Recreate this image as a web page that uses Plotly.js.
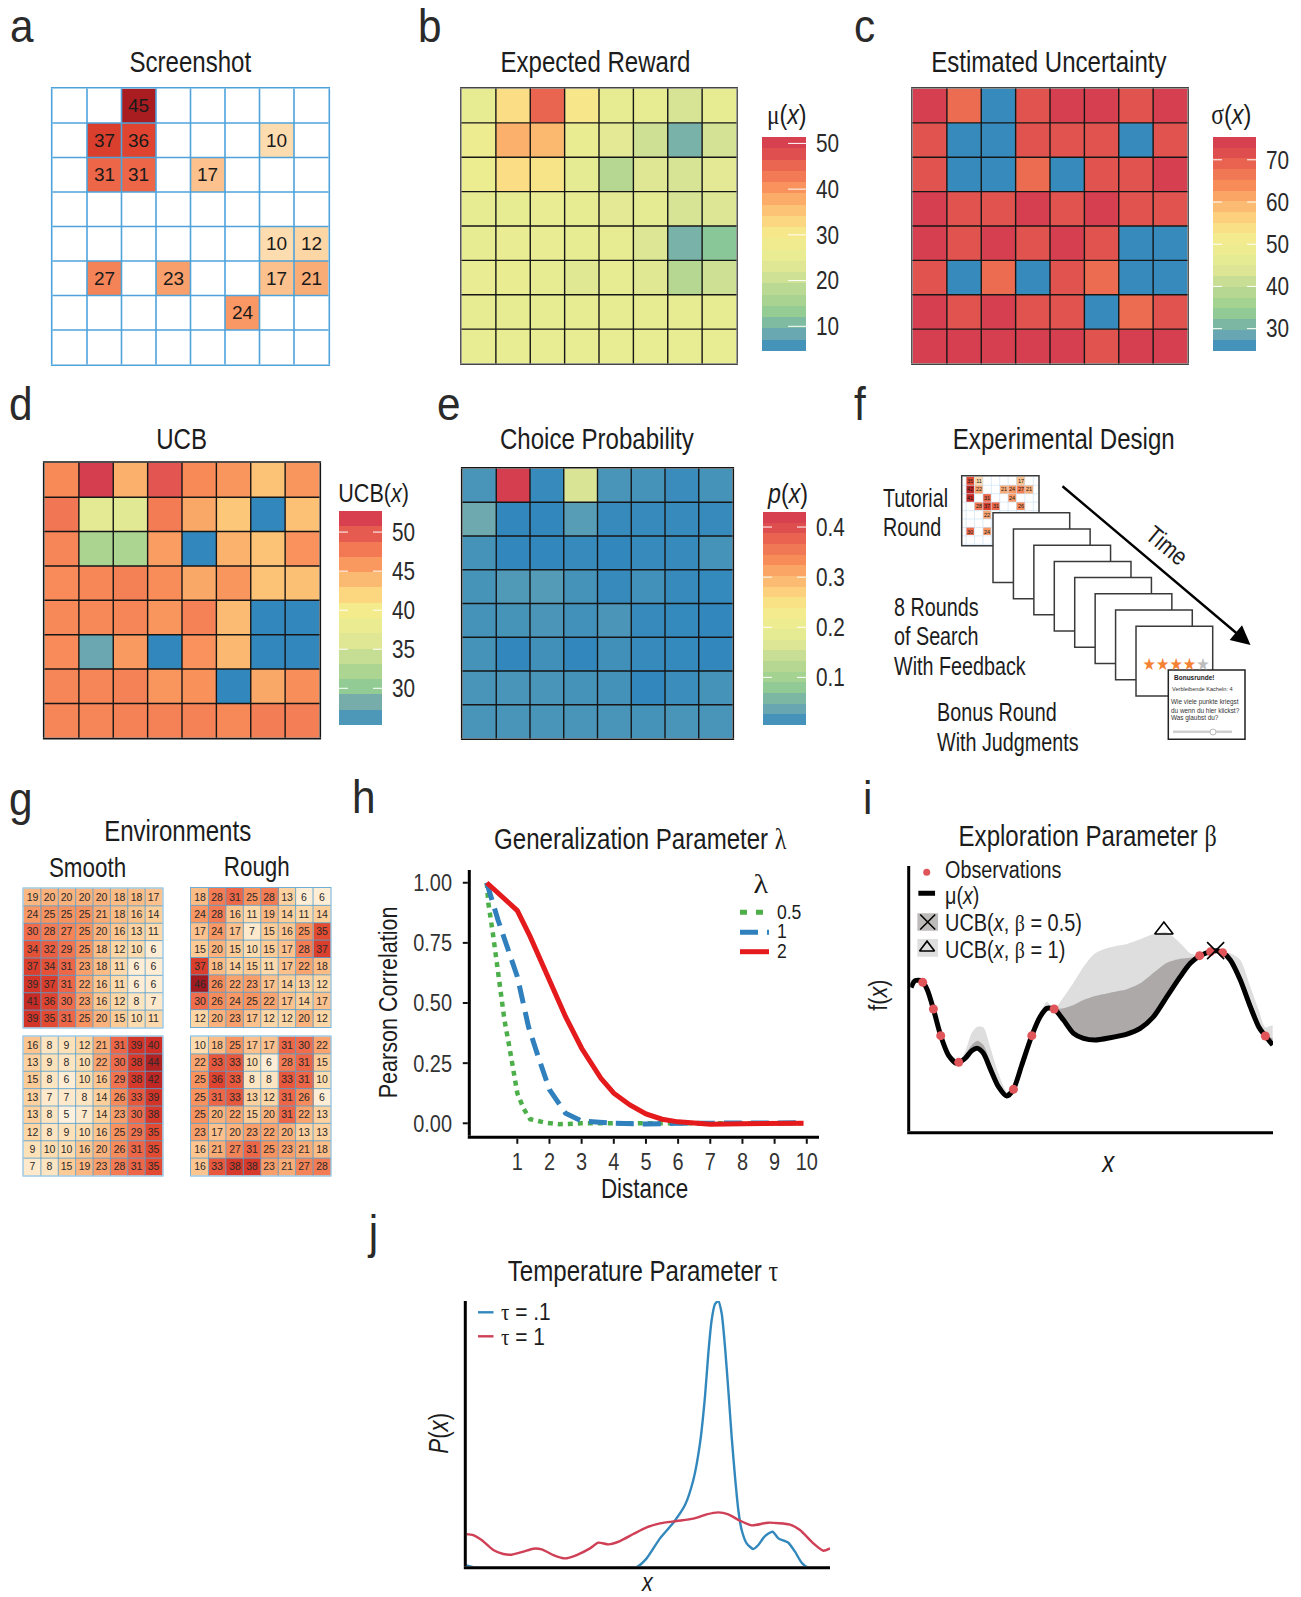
<!DOCTYPE html>
<html><head><meta charset="utf-8">
<script src="https://cdn.plot.ly/plotly-3.0.1.min.js"></script>
<style>html,body{margin:0;padding:0;background:#fff}
.js-plotly-plot .plotly .crisp{shape-rendering:auto !important}</style></head>
<body><div id="chart" style="width:1301px;height:1597px"></div>
<script>
const W=1301,H=1597;
const SANS='"Liberation Sans",Arial,sans-serif';
const NARROW=SANS;
const SERIF='font-family:Liberation Serif';

// ---------- data ----------
const screenshot=[
[null,null,45,null,null,null,null,null],
[null,37,36,null,null,null,10,null],
[null,31,31,null,17,null,null,null],
[null,null,null,null,null,null,null,null],
[null,null,null,null,null,null,10,12],
[null,27,null,23,null,null,17,21],
[null,null,null,null,null,24,null,null],
[null,null,null,null,null,null,null,null]];
const expectedReward=[
[25,32,45.3,30.5,25,25,21.5,25],
[27,37.5,36.5,26,24,20.5,10,21],
[26.5,32,31,24.5,17.5,23,21.5,24],
[25,25,25.5,25,24,24.5,21.5,22.5],
[25,25.5,25.5,25,25,22.5,10,12],
[25.5,26,25,23.5,25,23.5,17.5,20.5],
[25,25,25,25,25,25,25,25],
[25.3,25.3,25.3,25.3,25.3,25.3,25.3,25.3]];
const uncertainty=[
[75,68,25,71,75,75,71,75],
[71,25,25,71,71,71,25,71],
[71,25,25,68,25,71,71,75],
[75,71,71,75,71,75,71,71],
[75,71,75,71,75,71,25,25],
[71,25,68,25,71,68,25,25],
[75,71,75,71,71,25,68,71],
[75,75,75,75,75,71,75,75]];
const ucb=[
[46.7,52.7,44.5,50.2,46.7,46,43.3,46],
[48,36.8,36.5,47.6,45,43,25.3,43.4],
[47,32,32.2,45.6,25.3,44.4,43.3,46.2],
[46.6,46.9,47.3,46.5,45,46,43.3,43.5],
[46.8,46.8,47,46,47.2,43.8,25.3,25.3],
[46.6,27.5,45.8,25.3,46.2,44,25.3,25.3],
[47,47,47.2,46,46.3,25.3,45,46.4],
[47,47,47.2,47.2,47.2,46.8,47.5,47.4]];
const choiceProb=[
[.018,.43,.008,.16,.018,.016,.009,.016],
[.043,.005,.005,.026,.008,.008,.008,.008],
[.016,.005,.005,.007,.005,.008,.008,.016],
[.017,.022,.024,.016,.008,.014,.008,.006],
[.016,.017,.019,.014,.019,.008,.006,.005],
[.016,.005,.013,.005,.013,.008,.006,.005],
[.018,.018,.018,.016,.015,.005,.01,.016],
[.018,.018,.018,.018,.018,.016,.018,.018]];
const tutorial=[
[35,11,null,null,null,null,17,null],
[42,22,null,null,21,24,27,21],
[41,null,31,null,null,24,null,null],
[null,28,37,31,null,null,26,null],
[null,null,22,null,null,null,null,null],
[null,null,null,null,null,null,null,null],
[30,null,24,null,null,null,null,null],
[null,null,null,null,null,null,null,null]];
const smooth1=[
[19,20,20,20,20,18,18,17],[24,25,25,25,21,18,16,14],[30,28,27,25,20,16,13,11],[34,32,29,25,18,12,10,6],
[37,34,31,23,18,11,6,6],[39,37,31,22,16,11,6,6],[41,36,30,23,16,12,8,7],[39,35,31,25,20,15,10,11]];
const smooth2=[
[16,8,9,12,21,31,39,40],[13,9,8,10,22,30,38,44],[15,8,6,10,16,29,38,42],[13,7,7,8,14,26,33,39],
[13,8,5,7,14,23,30,38],[12,8,9,10,16,25,29,35],[9,10,10,16,20,26,31,35],[7,8,15,19,23,28,31,35]];
const rough1=[
[18,28,31,25,28,13,6,6],[24,28,16,11,19,14,11,14],[17,24,17,7,15,16,25,35],[15,20,15,10,15,17,28,37],
[37,18,14,15,11,17,22,18],[46,26,22,23,17,14,13,12],[30,26,24,25,22,17,14,17],[12,20,23,17,12,12,20,12]];
const rough2=[
[10,18,25,17,17,31,30,22],[22,33,33,10,6,28,31,15],[25,36,33,8,8,33,31,10],[25,31,33,13,12,31,26,6],
[25,20,22,15,20,31,22,13],[23,17,20,23,22,20,13,13],[16,21,27,31,25,23,21,18],[16,33,38,38,23,21,27,28]];

const distRed=[.05,1,1.4,2,2.5,3,3.6,4,4.5,5,5.5,6,7,8,9,9.9];
const corrRed=[1,.884,.776,.596,.443,.312,.187,.125,.076,.039,.017,.006,-.004,-.002,0,0];
const distBlue=[.05,.4,1,1.35,1.65,2,2.5,3,4,5,6,7,8,9,9.9];
const corrBlue=[1,.845,.61,.4,.277,.14,.042,.01,0,-.003,0,0,0,.002,.002];
const distGreen=[.05,.1,.25,.4,.6,.77,1,1.2,1.4,1.85,2.3,3,4,5,6,7,8,9,9.9];
const corrGreen=[1,.915,.78,.62,.43,.305,.125,.06,.017,.003,-.004,0,0,0,0,0,0,0,0];

const gpX=[7,19,39,56,74,96,119,144,169,189,206,224,244,269,294,314,339,369,394,414,436,464,494,524,559,604,654,694,734,774,814,844,874,904,924,942,964,994,1024,1049,1069,1091];
const gpMu=[436,456,456,428,371,291,233,208,223,246,253,238,193,138,110,130,203,291,348,373,371,338,298,283,278,285,296,313,348,408,468,508,531,543,546,540,518,458,378,318,290,263];
const gpB05=[438,456,456,428,371,291,233,208,233,263,276,263,213,150,113,130,203,291,348,378,371,373,383,398,410,420,430,448,480,510,522,525,531,543,546,540,528,473,398,333,296,283];
const gpB1=[458,462,456,428,371,291,233,208,243,300,318,316,258,178,123,130,203,291,356,393,371,406,450,498,538,556,566,580,596,601,568,538,531,543,546,540,538,518,438,368,316,323];
const obsX=[42,74,96,150,314,369,436,872,905,941,1069];
const obsY=[451,371,291,211,130,291,371,531,543,540,290];

const tempBlueX=[0,34,484,514,544,584,624,659,684,704,719,729,739,749,759,769,779,789,799,809,819,829,844,864,879,899,922,939,969,989,1009,1029,1094];
const tempBlueY=[8,0,0,2,28,88,135,188,263,373,513,643,743,791,800,763,663,533,393,273,173,113,73,56,68,95,108,88,75,48,15,0,0];
const tempRedX=[0,24,49,84,114,139,174,204,229,264,299,334,374,399,429,464,504,544,584,634,684,724,759,789,824,859,909,974,1004,1044,1074,1094];
const tempRedY=[101,98,83,53,41,39,48,57,55,38,28,38,58,75,70,80,101,121,133,140,147,160,166,160,141,127,135,129,113,73,51,58];

// ---------- colour scales ----------
const spectral=[[0,'#3288BD'],[.065,'#63A4B4'],[.105,'#75ACAC'],[.15,'#85C59A'],[.2,'#9CCF90'],[.3,'#BDDA93'],[.37,'#DBE595'],[.44,'#E8EC93'],[.54,'#F5EB8C'],[.61,'#FDD680'],[.7,'#FBB16C'],[.78,'#F88A58'],[.87,'#EA6550'],[.955,'#D9414F'],[1,'#D53E4F']];
const orRd=[[0,'#FFF1DE'],[.122,'#FDDDB0'],[.244,'#FDCB96'],[.366,'#FBB27C'],[.488,'#F8925F'],[.61,'#EF6D4C'],[.732,'#E24A31'],[.854,'#CF2E26'],[1,'#A11A20']];

// ---------- builders ----------
const data=[],layout={width:W,height:H,margin:{l:0,r:0,t:0,b:0},autosize:false,paper_bgcolor:'#fff',plot_bgcolor:'rgba(0,0,0,0)',showlegend:false,annotations:[],shapes:[],font:{family:NARROW,color:'#222'}};
const squeeze={};
let axN=0;
function axes(l,t,r,b,xo,yo){
  axN++;const s=axN===1?'':axN;
  layout['xaxis'+s]=Object.assign({domain:[l/W,r/W],anchor:'y'+s,showgrid:false,zeroline:false,showline:false,showticklabels:false,ticks:'',fixedrange:true},xo);
  layout['yaxis'+s]=Object.assign({domain:[1-b/H,1-t/H],anchor:'x'+s,showgrid:false,zeroline:false,showline:false,showticklabels:false,ticks:'',fixedrange:true},yo);
  return {x:'x'+s,y:'y'+s};
}
function gridAxes(l,t,r,b,col,w,lw,lcol){
  const tk=(len,rng)=>({range:rng,tickmode:'linear',tick0:-.5,dtick:1,ticks:'inside',ticklen:len,tickcolor:col,tickwidth:w,showline:true,mirror:true,linewidth:lw||w,linecolor:lcol||col});
  return axes(l,t,r,b,tk(b-t,[-.5,7.5]),tk(r-l,[7.5,-.5]));
}
function heat(a,z,cs,lo,hi,extra){
  data.push(Object.assign({type:'heatmap',xaxis:a.x,yaxis:a.y,z:z,colorscale:cs,zmin:lo,zmax:hi,showscale:false,hoverinfo:'skip'},extra||{}));
}
function numbered(size,color){return {texttemplate:'%{z}',textfont:{family:SANS,size:size,color:color||'#1a1a1a'}};}
function bar(l,t,r,b,lo,hi,bands,tickvals,ticktext,ticklen,mirror){
  const a=axes(l,t,r,b,{range:[0,1]},{range:[lo,hi],side:'right',tickvals:tickvals,ticktext:ticktext,showticklabels:true,ticks:'inside',ticklen:ticklen,tickcolor:'#fff',tickwidth:1,mirror:mirror?'ticks':false,tickfont:{family:NARROW,size:25,color:'#2a2a2a'},ticklabelstandoff:9});
  const edges=[],mids=[];
  for(let i=0;i<=bands;i++)edges.push(lo+(hi-lo)*i/bands);
  for(let i=0;i<bands;i++)mids.push([(edges[i]+edges[i+1])/2]);
  data.push({type:'heatmap',xaxis:a.x,yaxis:a.y,x:[0,1],y:edges,z:mids,colorscale:spectral,zmin:lo,zmax:hi,showscale:false,hoverinfo:'skip'});
}
function T(text,x,y,size,o){
  o=Object.assign({},o||{});
  const k=o.k===undefined?.83:o.k;delete o.k;
  squeeze[layout.annotations.length]=k;
  layout.annotations.push(Object.assign({text:text,xref:'paper',yref:'paper',x:x/W,y:1-y/H,showarrow:false,xanchor:'center',yanchor:'middle',font:{family:NARROW,size:size,color:'#1c1c1c'},borderpad:0},o));
}
function TL(text,x,y,size,o){T(text,x,y,size,Object.assign({xanchor:'left'},o||{}));}
function rect(x0,y0,x1,y1,fill,line,lw,layer){
  layout.shapes.push({type:'rect',xref:'paper',yref:'paper',x0:x0/W,x1:x1/W,y0:1-y0/H,y1:1-y1/H,fillcolor:fill,line:{color:line,width:lw},layer:layer||'above'});
}
function seg(x0,y0,x1,y1,col,w,dash){
  layout.shapes.push({type:'line',xref:'paper',yref:'paper',x0:x0/W,x1:x1/W,y0:1-y0/H,y1:1-y1/H,line:{color:col,width:w,dash:dash||'solid'},layer:'above'});
}
const PANEL={family:SANS,size:46,color:'#2a2a2a'};
function P(t,x,y){T(t,x,y,46,{xanchor:'left',font:PANEL,k:.92});}
const sym=s=>`<span style="${SERIF}">${s}</span>`;

// ---------- a-e ----------
const BLK='#161616';
let a=gridAxes(52.5,88.5,328.5,364.5,'#4EA3DB',1.6);
heat(a,screenshot,orRd,5,46,numbered(19));
a=gridAxes(461.5,88.5,736.5,363.5,BLK,1.4,1.4,'#444');
heat(a,expectedReward,spectral,4.6,51.4);
bar(762,137,806,351,4.6,51.4,19,[10,20,30,40,50],['10','20','30','40','50'],18,false);
a=gridAxes(912.5,88.5,1187.5,363.5,BLK,1.4,1.4,'#444');
heat(a,uncertainty,spectral,24.7,75.4);
bar(1213,137,1256,351,24.7,75.4,20,[30,40,50,60,70],['30','40','50','60','70'],9,true);
a=gridAxes(44.5,462.8,319.5,737.8,BLK,1.4,1.6,BLK);
heat(a,ucb,spectral,25.3,52.7);
bar(339,511,382,725,25.3,52.7,14,[30,35,40,45,50],['30','35','40','45','50'],9,true);
a=gridAxes(462.5,468.5,732.5,738.5,BLK,1.4,1.6,BLK);
heat(a,choiceProb,spectral,.005,.43);
bar(763,512,806,725,.005,.43,20,[.1,.2,.3,.4],['0.1','0.2','0.3','0.4'],9,true);

T('Screenshot',190,62,29);T('Expected Reward',595,62,29);T('Estimated Uncertainty',1049,62,29);
T('UCB',182,439,29);T('Choice Probability',597,439,29);T('Experimental Design',1064,439,29);
T(sym('μ')+'(<i>x</i>)',787,114,28);T(sym('σ')+'(<i>x</i>)',1231,114,28.5);
T('UCB(<i>x</i>)',373,493,26);T('<i>p</i>(<i>x</i>)',787,494,28);
P('a',9,26.5);P('b',417,26.5);P('c',853,26.5);P('d',8,404);P('e',436,404);P('f',853,404);P('g',8,799);P('h',351,797.5);P('i',862,798);P('j',366,1232);

// ---------- f ----------
a=axes(962,476,1039,546,{range:[-.99,8.18],tickmode:'linear',tick0:-.5,dtick:1,ticks:'inside',ticklen:70,tickcolor:'#CFE3F3',tickwidth:.7},
  {range:[7.7,-.6],tickmode:'linear',tick0:-.5,dtick:1,ticks:'inside',ticklen:77,tickcolor:'#CFE3F3',tickwidth:.7});
heat(a,tutorial,orRd,5,46,numbered(5.5));
rect(961.7,475.7,1039,545.7,'rgba(0,0,0,0)','#3a3a3a',1.5);
for(let i=0;i<8;i++){
  const x=993+20.43*i,y=512.7+16.23*i;
  rect(x,y,x+76.7,y+69.7,'#fff','#3a3a3a',1.5);
}
rect(1168.3,670,1245,739.3,'#fff','#222',1.5);
T('<span style="color:#F58233">★★★★</span><span style="color:#BDBDBD">★</span>',1175.5,663.5,17,{k:.88,font:{family:'DejaVu Sans',size:17,color:'#F58233'}});
TL('<b>Bonusrunde!</b>',1173,677.5,6.5,{k:1,font:{family:SANS,size:6.5,color:'#222'}});
TL('Verbleibende Kacheln: 4',1170.5,688.5,5.6,{k:1,font:{family:SANS,size:5.6,color:'#333'}});
['Wie viele punkte kriegst','du wenn du hier klickst?','Was glaubst du?'].forEach((s,i)=>TL(s,1170,702+8*i,6.4,{k:1,font:{family:SANS,size:6.4,color:'#333'}}));
seg(1173,731.7,1232,731.7,'#CFCFCF',2.4);
layout.shapes.push({type:'circle',xref:'paper',yref:'paper',x0:1210/W,x1:1216/W,y0:1-729/H,y1:1-735/H,fillcolor:'#fff',line:{color:'#BBB',width:1},layer:'above'});
const FK=.79;
TL('Tutorial',882,497.5,25,{k:FK});TL('Round',882,527,25,{k:FK});
TL('8 Rounds',892.5,606.5,25,{k:FK});TL('of Search',892.5,636,25,{k:FK});TL('With Feedback',892.5,665.5,25,{k:FK});
TL('Bonus Round',936,712.5,25,{k:FK});TL('With Judgments',936,742,25,{k:FK});
layout.annotations.push({xref:'paper',yref:'paper',x:1250.5/W,y:1-645/H,ax:1061-1250.5,ay:485-645,axref:'pixel',ayref:'pixel',text:'',showarrow:true,arrowhead:2,arrowsize:1.6,arrowwidth:2.4,arrowcolor:'#000',standoff:0});
T('Time',1167,545,25,{textangle:40});

// ---------- g ----------
T('Environments',177,831,29);T('Smooth',87,868,27);T('Rough',257,867,27);
[[smooth1,23.5,888.5,162.5,1027.5],[smooth2,23.5,1036.5,162.5,1175.5],[rough1,191,888,330.5,1027],[rough2,191,1036.5,330.5,1175.5]].forEach(g=>{
  const ax=gridAxes(g[1],g[2],g[3],g[4],'rgba(85,160,208,.85)',1);
  heat(ax,g[0],orRd,5,46,numbered(10.5,'#2a2a2a'));
});

// ---------- h ----------
const axOpt={showticklabels:true,ticks:'outside',ticklen:5,tickwidth:2,tickcolor:'#111',showline:true,linewidth:3,linecolor:'#000',tickfont:{family:NARROW,size:24,color:'#333'}};
a=axes(470.8,870,819,1135.8,Object.assign({range:[-.446,10.38],tickvals:[1,2,3,4,5,6,7,8,9,10],ticklabelstandoff:-3},axOpt),
  Object.assign({range:[-.052,1.053],tickvals:[0,.25,.5,.75,1],ticktext:['0.00','0.25','0.50','0.75','1.00'],ticklabelstandoff:6},axOpt));
const ln=(x,y,c,w,d,nm)=>data.push({type:'scatter',mode:'lines',xaxis:a.x,yaxis:a.y,x:x,y:y,name:nm,line:{color:c,width:w,dash:d||'solid'},hoverinfo:'skip'});
ln(distGreen,corrGreen,'#4DAF4A',4.5,'5px,5px','0.5');
ln(distBlue,corrBlue,'#3080BD',5,'18px,9px','1');
ln(distRed,corrRed,'#E41A1C',5,'solid','2');
T('Generalization Parameter '+sym('λ'),640,839,29);
T('Pearson Correlation',388,1003,26,{textangle:-90});
T('Distance',644,1189,27);
T(sym('λ'),761,883,28,{k:1.08});
seg(740,912.3,769,912.3,'#4DAF4A',5,'7px,9px');seg(740,932.3,769,932.3,'#3080BD',5,'18px,9px');seg(740,951.7,769,951.7,'#E41A1C',5);
TL('0.5',776,912,19.5,{k:.9});TL('1',776,931,19.5,{k:.9});TL('2',776,950.5,19.5,{k:.9});

// ---------- i ----------
a=axes(910.2,866,1273,1131.2,{range:[4.5,1092],showline:true,linewidth:3,linecolor:'#000'},{range:[4.5,800],showline:true,linewidth:3,linecolor:'#000'});
const ai=a;
const band=(top,c)=>{
  data.push({type:'scatter',mode:'lines',xaxis:ai.x,yaxis:ai.y,x:gpX,y:gpMu,line:{width:0,shape:'spline',smoothing:.7},hoverinfo:'skip'});
  data.push({type:'scatter',mode:'lines',xaxis:ai.x,yaxis:ai.y,x:gpX,y:top,fill:'tonexty',fillcolor:c,line:{width:0,shape:'spline',smoothing:.7},hoverinfo:'skip'});
};
band(gpB1,'#DEDEDE');band(gpB05,'#ADA9A9');
data.push({type:'scatter',mode:'lines',xaxis:ai.x,yaxis:ai.y,x:gpX,y:gpMu,line:{color:'#000',width:5,shape:'spline',smoothing:.7},hoverinfo:'skip'});
data.push({type:'scatter',mode:'markers',xaxis:ai.x,yaxis:ai.y,x:obsX,y:obsY,marker:{color:'#E0555A',size:9},hoverinfo:'skip'});
const m=(x,y,sym2,size,col,lw)=>data.push({type:'scatter',mode:'markers',xaxis:ai.x,yaxis:ai.y,x:[x],y:[y],marker:{symbol:sym2,size:size,color:col||'#000',line:{color:col||'#000',width:lw===undefined?1.6:lw}},hoverinfo:'skip',cliponaxis:false});
layout.shapes.push({type:'rect',xref:ai.x,yref:ai.y,x0:26,x1:88,y0:606,y1:658,fillcolor:'#BDBABA',line:{width:0},layer:'below'});
layout.shapes.push({type:'rect',xref:ai.x,yref:ai.y,x0:26,x1:88,y0:528,y1:581,fillcolor:'#DEDEDE',line:{width:0},layer:'below'});
layout.shapes.push({type:'line',xref:ai.x,yref:ai.y,x0:29,x1:79,y0:718,y1:718,line:{color:'#000',width:5},layer:'above'});
m(54,781,'circle',7,'#E0555A',0);
m(57,632,'x-thin-open',15);m(55,555,'triangle-up-open',13);
m(920,546,'x-thin-open',17);m(765,608,'triangle-up-open',16);
T('Exploration Parameter '+sym('β'),1087,836,29);
TL('Observations',944,869.5,23,{k:.86});TL('μ(<i>x</i>)',944,895.5,23,{k:.86});
TL('UCB(<i>x</i>, '+sym('β')+' = 0.5)',944,922,24);TL('UCB(<i>x</i>, '+sym('β')+' = 1)',944,950,24);
T('f(<i>x</i>)',878,995,26,{textangle:-90});T('<i>x</i>',1108,1162,29);

// ---------- j ----------
a=axes(466.8,1301,830,1566.2,{range:[4.5,1094],showline:true,linewidth:3,linecolor:'#000'},{range:[4.5,800],showline:true,linewidth:3,linecolor:'#000'});
ln(tempBlueX,tempBlueY,'#3288BD',2.4,'solid','τ = .1');data[data.length-1].line.shape='spline';data[data.length-1].line.smoothing=.6;
ln(tempRedX,tempRedY,'#CF3F56',2.4,'solid','τ = 1');data[data.length-1].line.shape='spline';data[data.length-1].line.smoothing=.6;
T('Temperature Parameter '+sym('τ'),643,1271,29);
T('<i>P</i>(<i>x</i>)',439,1433,27,{textangle:-90});T('<i>x</i>',647,1582,26);
seg(478,1312.3,493.5,1312.3,'#3288BD',2.4);seg(478,1336.3,493.5,1336.3,'#CF3F56',2.4);
TL(sym('τ')+' = .1',500,1311,24,{k:.87});TL(sym('τ')+' = 1',500,1336,24,{k:.87});

// The reference is set in a condensed face; no such face is installed, so the
// real text elements are narrowed horizontally around their anchor.
function narrow(el,k,anchor){
  const t0=el.getAttribute('transform')||'';
  if(t0.indexOf('scale(')>=0)return;
  const bb=el.getBBox();
  const o=anchor==='start'?bb.x:anchor==='end'?bb.x+bb.width:bb.x+bb.width/2;
  el.setAttribute('transform',`${t0} translate(${o},0) scale(${k},1) translate(${-o},0)`);
}
function narrowAll(){
  document.querySelectorAll('.annotation').forEach(g=>{
    const i=+g.getAttribute('data-index'),k=squeeze[i],el=g.querySelector('text');
    if(!el||!k||k===1)return;
    narrow(el,k,layout.annotations[i].xanchor==='left'?'start':'middle');
  });
  // tick groups are classed per axis: xtick, x2tick, y14tick ...
  document.querySelectorAll('g[class$="tick"] text').forEach(el=>narrow(el,.83,el.getAttribute('text-anchor')||'middle'));
}
Plotly.newPlot('chart',data,layout,{displayModeBar:false,staticPlot:true}).then(()=>{
  narrowAll();
  [0,50,150,300,600].forEach(d=>setTimeout(narrowAll,d));
});
</script></body></html>
